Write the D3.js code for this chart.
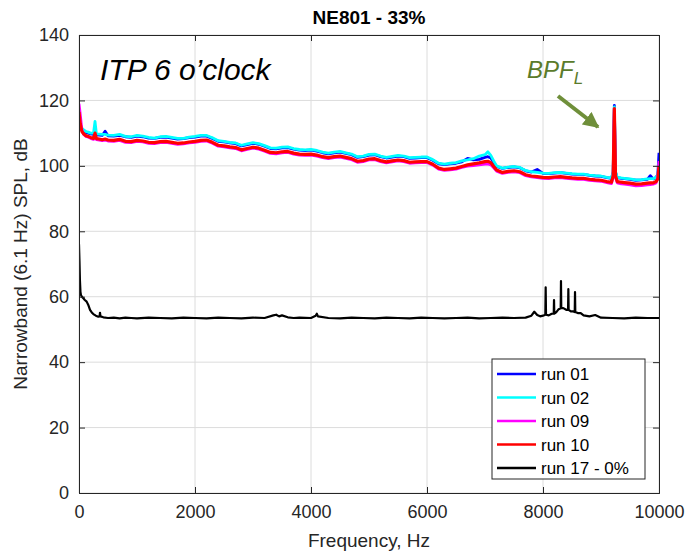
<!DOCTYPE html>
<html>
<head>
<meta charset="utf-8">
<script src="https://cdn.jsdelivr.net/npm/d3@7"></script>
<style>
  html, body { margin: 0; padding: 0; background: #fff; }
  svg { display: block; font-family: "Liberation Sans", Arial, Helvetica, sans-serif; }
</style>
</head>
<body>
<div id="chart"></div>
<script>
// ---------------- DATA ----------------
const title = "NE801 - 33%";
const xLabel = "Frequency, Hz";
const yLabel = "Narrowband (6.1 Hz) SPL, dB";
const xTicks = [0, 2000, 4000, 6000, 8000, 10000];
const yTicks = [0, 20, 40, 60, 80, 100, 120, 140];
const seriesNames = ["run 01", "run 02", "run 09", "run 10", "run 17 - 0%"];
const seriesColors = ["#0000ff", "#00ffff", "#ff00ff", "#ff0000", "#000000"];

const freq = [0, 20, 50, 80, 120, 160, 200, 250, 276, 300, 350, 400, 450, 500, 600, 700, 800, 900,
  1000, 1100, 1200, 1300, 1400, 1500, 1600, 1700, 1800, 1900, 2000, 2100, 2200, 2300, 2400, 2500,
  2600, 2700, 2800, 2900, 3000, 3100, 3200, 3300, 3400, 3500, 3600, 3700, 3800, 3900, 4000, 4100,
  4200, 4300, 4400, 4500, 4600, 4700, 4800, 4900, 5000, 5100, 5200, 5300, 5400, 5500, 5600, 5700,
  5800, 5900, 6000, 6100, 6200, 6300, 6400, 6500, 6600, 6700, 6800, 6900, 7000, 7050, 7100, 7150,
  7200, 7300, 7400, 7500, 7600, 7700, 7800, 7900, 8000, 8100, 8200, 8300, 8400, 8500, 8600, 8700,
  8800, 8900, 9000, 9100, 9180, 9210, 9230, 9250, 9280, 9350, 9400, 9500, 9600, 9700, 9800, 9850,
  9900, 9950, 9980, 10000];

const run01 = [112.5, 112, 111, 110.6, 110.2, 110, 109.8, 109.6, 110.2, 109.5, 109.4, 109.3, 110.6, 109.2,
  109.1, 109.3, 108.9, 108.7, 109.1, 108.9, 108.5, 108.4, 108.7, 108.8, 108.5, 108.2, 108.3, 108.6,
  108.8, 109.1, 109.1, 108.4, 107.5, 107.3, 107, 106.8, 106.1, 106.5, 106.9, 106.6, 106, 105.3,
  105.2, 105.5, 105.6, 105.1, 104.8, 104.7, 104.8, 104.5, 104, 103.7, 104, 104.2, 103.8, 103.4,
  102.6, 102.8, 103.3, 103.4, 102.8, 102.4, 102.7, 103, 102.8, 102.3, 102.4, 102.5, 102.5, 101.7,
  100.6, 100.4, 100.6, 100.8, 101.2, 102.3, 101.8, 102, 102.6, 102.8, 102.4, 101, 99.8, 99.2,
  99.5, 99.7, 99.4, 98.5, 98.1, 98.9, 97.7, 97.6, 97.8, 97.9, 97.7, 97.5, 97.4, 97.4,
  97.1, 96.9, 96.8, 96.4, 96.2, 98, 118.5, 98, 96.4, 96.2, 96.1, 95.9, 95.6, 95.7, 95.9, 97,
  96, 96.4, 97.5, 104];

const run02 = [112, 112.5, 111.5, 111, 110.5, 110.3, 110, 110, 113.6, 109.8, 109.7, 109.6, 109.6, 109.4,
  109.3, 109.6, 109, 108.9, 109.3, 109.1, 108.7, 108.5, 108.9, 109, 108.7, 108.4, 108.4, 108.8,
  109, 109.3, 109.3, 108.6, 107.7, 107.5, 107.2, 107, 106.3, 106.7, 107.1, 106.8, 106.2, 105.5,
  105.4, 105.7, 105.8, 105.3, 105, 104.9, 105, 104.7, 104.2, 103.9, 104.2, 104.4, 104, 103.6,
  102.8, 103, 103.5, 103.6, 103, 102.6, 102.9, 103.2, 103, 102.5, 102.6, 102.7, 102.7, 101.9,
  100.8, 100.5, 100.8, 101, 101.5, 101.8, 102.2, 103, 103.4, 104.3, 103.2, 101.5, 100, 99.3,
  99.6, 99.8, 99.5, 98.6, 98.2, 98, 97.8, 97.7, 97.9, 98, 97.8, 97.6, 97.5, 97.5,
  97.2, 97, 96.9, 96.5, 96.3, 98.2, 118, 98.2, 96.5, 96.3, 96.2, 96, 95.7, 95.8, 96, 96.1,
  96.1, 96.5, 97.3, 101];

const run09 = [119, 116, 111, 109.6, 109, 108.8, 108.4, 108.1, 108.5, 108, 107.9, 107.7, 107.9, 107.6,
  107.5, 107.8, 107.2, 107.1, 107.5, 107.3, 106.9, 106.8, 107.1, 107.2, 106.9, 106.6, 106.7, 107,
  107.2, 107.5, 107.6, 106.9, 106, 105.8, 105.5, 105.3, 104.6, 105, 105.4, 105.1, 104.5, 103.8,
  103.7, 104, 104.1, 103.6, 103.3, 103.2, 103.3, 103, 102.5, 102.2, 102.5, 102.7, 102.3, 101.9,
  101.1, 101.3, 101.8, 101.9, 101.3, 100.9, 101.2, 101.5, 101.3, 100.8, 100.9, 101, 101, 100.2,
  99, 98.6, 98.8, 99, 99.5, 99.9, 100.1, 100.3, 100.5, 100.6, 100.3, 99.4, 98.4, 97.7,
  98, 98.2, 97.9, 97, 96.6, 96.4, 96.2, 96.1, 96.3, 96.4, 96.2, 96, 95.9, 95.9,
  95.6, 95.4, 95.3, 94.9, 94.6, 96.5, 117, 96.5, 94.8, 94.5, 94.4, 94.2, 93.9, 94, 94.2, 94.3,
  94.4, 94.8, 96.5, 101.5];

const run10 = [116.5, 113, 110.5, 109.8, 109.2, 109, 108.7, 108.4, 110, 108.3, 108.2, 108, 108.2, 107.9,
  107.8, 108.1, 107.5, 107.4, 107.8, 107.6, 107.2, 107.1, 107.4, 107.5, 107.2, 106.9, 107, 107.3,
  107.5, 107.8, 107.9, 107.2, 106.3, 106.1, 105.8, 105.6, 104.9, 105.3, 105.7, 105.4, 104.8, 104.1,
  104, 104.3, 104.4, 103.9, 103.6, 103.5, 103.6, 103.3, 102.8, 102.5, 102.8, 103, 102.6, 102.2,
  101.4, 101.6, 102.1, 102.2, 101.6, 101.2, 101.5, 101.8, 101.6, 101.1, 101.2, 101.3, 101.3, 100.5,
  99.3, 98.9, 99.1, 99.3, 99.8, 100.3, 100.6, 100.9, 101.3, 101.4, 101, 99.8, 98.7, 98,
  98.3, 98.5, 98.2, 97.3, 96.9, 96.7, 96.5, 96.4, 96.6, 96.7, 96.5, 96.3, 96.2, 96.2,
  95.9, 95.7, 95.6, 95.2, 95, 97, 117.5, 97, 95.2, 95, 94.9, 94.7, 94.4, 94.5, 94.7, 94.8,
  94.8, 95.2, 96, 100];

const freq17 = [0, 8, 16, 25, 34, 50, 75, 100, 132, 160, 190, 220, 247, 290, 333, 355, 362, 370, 420,
  500, 600, 700, 800, 900, 1000, 1200, 1400, 1600, 1800, 2000, 2200, 2400, 2600, 2800, 3000, 3200,
  3350, 3400, 3450, 3500, 3600, 3700, 3800, 4000, 4080, 4100, 4120, 4300, 4500, 4700, 4900, 5100,
  5300, 5500, 5700, 5900, 6100, 6300, 6500, 6700, 6900, 7100, 7300, 7500, 7700, 7800, 7850, 7900,
  7950, 8000, 8040, 8046, 8052, 8100, 8150, 8185, 8190, 8195, 8230, 8270, 8305, 8310, 8315, 8350,
  8400, 8432, 8437, 8442, 8480, 8520, 8547, 8552, 8557, 8600, 8650, 8700, 8800, 8900, 9000, 9200,
  9400, 9600, 9800, 10000];

const run17 = [76, 71, 65, 61.5, 60.5, 60, 59.5, 59, 58.5, 57.5, 56, 55.2, 54.7, 54.2, 53.9, 54, 55.1, 54,
  53.7, 53.5, 53.6, 53.4, 53.6, 53.5, 53.4, 53.6, 53.5, 53.4, 53.6, 53.5, 53.4, 53.6, 53.5, 53.4,
  53.6, 53.5, 54.3, 54.5, 54, 54.3, 53.7, 53.5, 53.6, 53.5, 54.2, 54.8, 54, 53.5, 53.4, 53.6, 53.5,
  53.4, 53.6, 53.5, 53.4, 53.6, 53.5, 53.4, 53.5, 53.6, 53.4, 53.5, 53.6, 53.5, 53.6, 54.2, 55.4,
  54.4, 54, 54.2, 54.5, 62.9, 54.5, 54.3, 54.8, 54.8, 59, 54.8, 55.3, 56.2, 56.5, 64.8, 56.5, 56.5,
  56, 56, 62.3, 56, 55.5, 55.5, 55.3, 61.4, 55.3, 55, 55, 54.3, 54, 54.4, 53.6, 53.5, 53.4, 53.6,
  53.5, 53.5];

// ---------------- CHART ----------------
const W = 687, H = 557;
const plot = { left: 79, right: 659, top: 35, bottom: 493 };
const axisColor = "#262626";

const svg = d3.select("#chart").append("svg").attr("width", W).attr("height", H);

const x = d3.scaleLinear().domain([0, 10000]).range([plot.left, plot.right]);
const y = d3.scaleLinear().domain([0, 140]).range([plot.bottom, plot.top]);

// grid
const grid = svg.append("g").attr("stroke", "#dcdcdc").attr("stroke-width", 1);
grid.selectAll("line.gx").data(xTicks).enter().append("line")
  .attr("x1", d => x(d)).attr("x2", d => x(d)).attr("y1", plot.top).attr("y2", plot.bottom);
grid.selectAll("line.gy").data(yTicks).enter().append("line")
  .attr("x1", plot.left).attr("x2", plot.right).attr("y1", d => y(d)).attr("y2", d => y(d));

// clip
svg.append("clipPath").attr("id", "clip").append("rect")
  .attr("x", plot.left).attr("y", plot.top)
  .attr("width", plot.right - plot.left).attr("height", plot.bottom - plot.top);

const allSeries = [
  { xs: freq, ys: run01, color: seriesColors[0], w: 2.8 },
  { xs: freq, ys: run02, color: seriesColors[1], w: 2.8 },
  { xs: freq, ys: run09, color: seriesColors[2], w: 2.8 },
  { xs: freq, ys: run10, color: seriesColors[3], w: 3.2 },
  { xs: freq17, ys: run17, color: seriesColors[4], w: 2.2 }
];

const line = d3.line().x(d => x(d[0])).y(d => y(d[1]));
const lines = svg.append("g").attr("clip-path", "url(#clip)");
allSeries.forEach(s => {
  lines.append("path")
    .datum(s.xs.map((f, i) => [f, s.ys[i]]))
    .attr("fill", "none")
    .attr("stroke", s.color)
    .attr("stroke-width", s.w)
    .attr("stroke-linejoin", "round")
    .attr("d", line);
});

// axes (ticks inward, box)
const tickLen = 6;
const xAxis = d3.axisBottom(x).tickValues(xTicks).tickSize(-tickLen).tickPadding(12).tickFormat(d3.format("d"));
const yAxis = d3.axisLeft(y).tickValues(yTicks).tickSize(-tickLen).tickPadding(10).tickFormat(d3.format("d"));
const xTop = d3.axisTop(x).tickValues(xTicks).tickSize(-tickLen).tickFormat("");
const yRight = d3.axisRight(y).tickValues(yTicks).tickSize(-tickLen).tickFormat("");

function styleAxis(g) {
  g.selectAll("path").attr("stroke", axisColor).attr("stroke-width", 1);
  g.selectAll("line").attr("stroke", axisColor).attr("stroke-width", 1);
  g.selectAll("text").attr("fill", axisColor).style("font-size", "18px")
    .style("font-family", "'Liberation Sans', Arial, sans-serif");
}
svg.append("g").attr("transform", `translate(0,${plot.bottom})`).call(xAxis).call(styleAxis);
svg.append("g").attr("transform", `translate(${plot.left},0)`).call(yAxis).call(styleAxis);
svg.append("g").attr("transform", `translate(0,${plot.top})`).call(xTop).call(styleAxis);
svg.append("g").attr("transform", `translate(${plot.right},0)`).call(yRight).call(styleAxis);

// title
svg.append("text").attr("x", (plot.left + plot.right) / 2).attr("y", 24)
  .attr("text-anchor", "middle").attr("font-weight", "bold").attr("font-size", 19)
  .attr("fill", "#000").text(title);

// axis labels
svg.append("text").attr("x", (plot.left + plot.right) / 2).attr("y", 547)
  .attr("text-anchor", "middle").attr("font-size", 19).attr("fill", axisColor).text(xLabel);
svg.append("text")
  .attr("transform", `translate(27,${(plot.top + plot.bottom) / 2}) rotate(-90)`)
  .attr("text-anchor", "middle").attr("font-size", 19).attr("fill", axisColor).text(yLabel);

// annotations
svg.append("text").attr("x", 100).attr("y", 80)
  .attr("font-style", "italic").attr("font-size", 30).attr("fill", "#000").text("ITP 6 o\u2019clock");

const olive = "#5b7b2b";
const bpf = svg.append("text").attr("x", 527).attr("y", 78)
  .attr("font-style", "italic").attr("font-size", 24).attr("fill", olive);
bpf.append("tspan").text("BPF");
bpf.append("tspan").attr("dy", 6).attr("font-size", 17).text("L");

const defs = svg.append("defs");
defs.append("marker").attr("id", "ah").attr("viewBox", "0 0 10 10")
  .attr("refX", 9).attr("refY", 5).attr("markerWidth", 4).attr("markerHeight", 4)
  .attr("orient", "auto").attr("markerUnits", "strokeWidth")
  .append("path").attr("d", "M0,0 L10,5 L0,10 z").attr("fill", "#6f8f3a");
svg.append("line").attr("x1", 558).attr("y1", 96).attr("x2", 598).attr("y2", 127)
  .attr("stroke", "#6f8f3a").attr("stroke-width", 4).attr("marker-end", "url(#ah)");

// legend
const lg = svg.append("g");
lg.append("rect").attr("x", 492).attr("y", 359).attr("width", 153).attr("height", 120)
  .attr("fill", "#fff").attr("stroke", axisColor).attr("stroke-width", 1);
seriesNames.forEach((n, i) => {
  const yy = 374 + i * 23.5;
  lg.append("line").attr("x1", 497).attr("x2", 536).attr("y1", yy).attr("y2", yy)
    .attr("stroke", seriesColors[i]).attr("stroke-width", 2.5);
  lg.append("text").attr("x", 541).attr("y", yy + 6).attr("font-size", 17)
    .attr("fill", "#000").text(n);
});
</script>
</body>
</html>
